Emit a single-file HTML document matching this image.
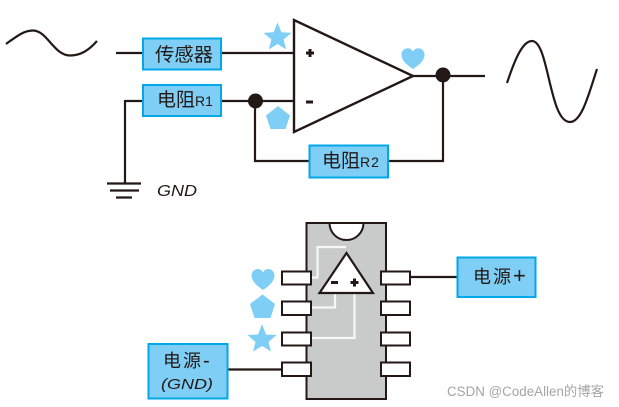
<!DOCTYPE html>
<html><head><meta charset="utf-8">
<style>
html,body{margin:0;padding:0;background:#fff;width:619px;height:407px;overflow:hidden}
svg{display:block}
text{font-family:"Liberation Sans","WenQuanYi Zen Hei","Noto Sans CJK SC",sans-serif;fill:#231815}
</style></head><body>
<svg width="619" height="407" viewBox="0 0 619 407" xmlns="http://www.w3.org/2000/svg">
<g fill="none" stroke="#231815" stroke-width="2.200">
<path d="M6 44C17 36 24 30.500 33 30.500C47 30.500 54 55.500 70 55.500C81 55.500 89 50 97 41" />
<path d="M507 83C514 62 522 41 532 41C549 41 549 122 570 122C582 122 589 93 597 69" />
<path d="M116 53H294M125 101H294M125 100V183M255 101V161H443V75M413 76H485" />
<path d="M294 20V132L413 76Z" stroke-width="2.400" stroke-linejoin="miter"/>
<path d="M107 183.500H141M110 190.500H139M116 197.500H132" />
<path d="M410 277H457M228 369.500H282"/>
</g>
<circle cx="255.500" cy="101" r="7.500" fill="#231815"/>
<circle cx="443" cy="75" r="7.500" fill="#231815"/>
<path d="M306 53H314M310 49V57" stroke="#231815" stroke-width="3" fill="none"/>
<path d="M306 102H313" stroke="#231815" stroke-width="3" fill="none"/>

<g fill="#7fcef5" stroke="#00a7e9" stroke-width="2">
<rect x="143" y="38.500" width="78" height="31"/>
<rect x="143" y="85" width="78" height="31"/>
<rect x="309.500" y="145.500" width="78.500" height="32"/>
<rect x="457.500" y="257.500" width="78" height="39.500"/>
<rect x="148.500" y="344" width="79" height="54.500"/>
</g>

<g fill="#7fcef5">
<path d="M277.500 22.500L281.300 32.200L291.500 32.900L283.600 39.500L286.200 49.500L277.500 44L268.800 49.500L271.400 39.500L263.500 32.900L273.700 32.200Z"/>
<path d="M278 106L290 115.500L285.500 129H270.500L266 115.500Z"/>
<path d="M413 69C405 64 401 59 401.500 54C402 48 410 46 413 51.500C416 46 424 48 424.500 54C425 59 421 64 413 69Z"/>
<path d="M263 290C255 285 251.500 280 251.500 275C252 269 260 266.500 263 272.500C266 266.500 274 269 274.500 275C274.500 280 271 285 263 290Z"/>
<path d="M262.500 294.500L275 304L270.500 318H254.500L250 304Z"/>
<path d="M262 324L266 334.500L276.500 335L268.500 342L271 351.500L262 346L253 351.500L255.500 342L247.500 335L258 334.500Z"/>
</g>

<rect x="306.500" y="223" width="79.500" height="176" fill="#c9caca" stroke="#231815" stroke-width="2"/>
<path d="M329.500 223A17 17 0 0 0 363.500 223Z" fill="#fff" stroke="#231815" stroke-width="2"/>
<g fill="none" stroke="#f7f7f7" stroke-width="2.200">
<path d="M311 277.500H317.500V247H346"/>
<path d="M311 307.500H335V293"/>
<path d="M311 338H354.500V293"/>
</g>
<path d="M346.500 253L319.500 293H373Z" fill="#fff" stroke="#231815" stroke-width="2.200"/>
<path d="M331 282.500H338" stroke="#231815" stroke-width="3"/>
<path d="M350.500 282.500H358.500M354.500 278.500V286.500" stroke="#231815" stroke-width="3"/>
<g fill="#fff" stroke="#231815" stroke-width="2">
<rect x="282" y="271.500" width="29" height="13"/>
<rect x="282" y="301.500" width="29" height="13.500"/>
<rect x="282" y="332.500" width="29" height="13"/>
<rect x="282" y="362.500" width="29" height="13.500"/>
<rect x="381" y="271.500" width="29" height="13"/>
<rect x="381" y="301.500" width="29" height="13.500"/>
<rect x="381" y="332.500" width="29" height="13"/>
<rect x="381" y="362.500" width="29" height="13.500"/>
</g>

<text x="155" y="61" font-size="19" textLength="58" lengthAdjust="spacingAndGlyphs">传感器</text>
<text x="157" y="106" font-size="19">电阻<tspan font-size="14">R1</tspan></text>
<text x="322" y="167" font-size="19">电阻<tspan font-size="14" letter-spacing="1">R2</tspan></text>
<text x="473" y="283" font-size="18" letter-spacing="2">电源<tspan font-size="22">+</tspan></text>
<text x="163" y="367" font-size="18" letter-spacing="2">电源<tspan font-size="20">-</tspan></text>
<text x="161" y="389" font-size="15" font-style="italic" textLength="52" lengthAdjust="spacingAndGlyphs">(GND)</text>
<text x="157" y="196" font-size="16" font-style="italic" textLength="40" lengthAdjust="spacingAndGlyphs">GND</text>
<text x="447" y="396" font-size="13.500" style="fill:#a5a5a5" textLength="157" lengthAdjust="spacingAndGlyphs">CSDN @CodeAllen的博客</text>
</svg>
</body></html>
